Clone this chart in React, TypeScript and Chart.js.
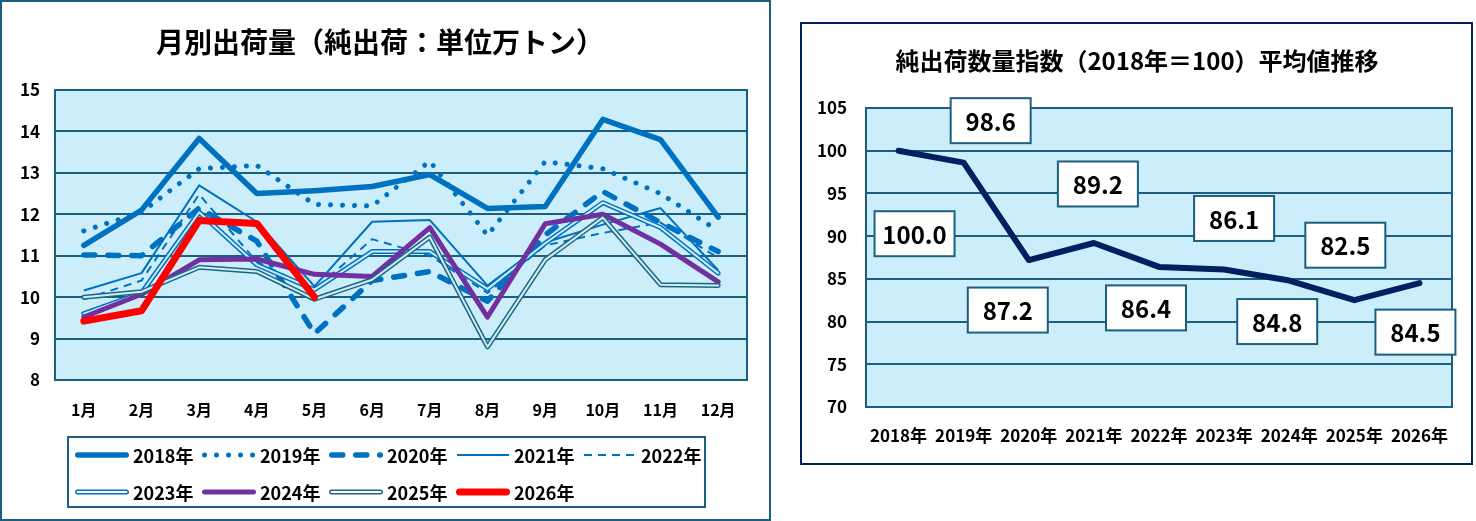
import { useEffect, useRef } from 'react'
import { Chart, registerables } from 'chart.js'

Chart.register(...registerables)

// ---- data: monthly net shipments (10k tons) ----
const months = ['1月', '2月', '3月', '4月', '5月', '6月', '7月', '8月', '9月', '10月', '11月', '12月']
const monthlyYears = ['2018年', '2019年', '2020年', '2021年', '2022年', '2023年', '2024年', '2025年', '2026年']

const ship2018 = [11.25, 12.1, 13.83, 12.5, 12.57, 12.67, 12.96, 12.14, 12.19, 14.29, 13.8, 11.93]
const ship2019 = [11.6, 12.05, 13.1, 13.18, 12.24, 12.2, 13.28, 11.49, 13.27, 13.1, 12.5, 11.6]
const ship2020 = [11.02, 11.0, 12.15, 11.35, 9.12, 10.4, 10.62, 9.9, 11.5, 12.55, 11.8, 11.1]
const ship2021 = [10.16, 10.58, 12.7, 11.82, 10.26, 11.82, 11.86, 10.28, 11.32, 11.75, 12.15, 10.65]
const ship2022 = [9.95, 10.4, 12.48, 10.85, 10.18, 11.4, 11.0, 10.1, 11.25, 11.55, 11.8, 10.95]
const ship2023 = [9.6, 10.1, 12.05, 10.78, 10.18, 11.1, 11.1, 10.2, 11.3, 12.28, 11.68, 10.58]
const ship2024 = [9.52, 10.07, 10.9, 10.92, 10.55, 10.5, 11.68, 9.52, 11.77, 12.0, 11.28, 10.37]
const ship2025 = [10.0, 10.13, 10.72, 10.62, 9.95, 10.42, 11.45, 8.8, 10.9, 11.92, 10.3, 10.28]
const ship2026 = [9.42, 9.67, 11.85, 11.78, 10.0, null, null, null, null, null, null, null]

const monthlySeries = [ship2018, ship2019, ship2020, ship2021, ship2022, ship2023, ship2024, ship2025, ship2026]

// ---- data: index (2018 = 100) ----
const indexYears = ['2018年', '2019年', '2020年', '2021年', '2022年', '2023年', '2024年', '2025年', '2026年']
const indexValues = [100.0, 98.6, 87.2, 89.2, 86.4, 86.1, 84.8, 82.5, 84.5]

const FONT = '"Noto Sans CJK JP", "Noto Sans", sans-serif'
const PLOT_BG = '#CCEEFB'
const GRID = '#1B5E7E'
const NAVY = '#002060'

interface SeriesStyle {
  color: string
  width: number
  dash: number[]
  cap: CanvasLineCap
  inner?: number
}

const seriesStyles: SeriesStyle[] = [
  { color: '#0070C0', width: 5.5, dash: [], cap: 'round' },
  { color: '#0070C0', width: 5, dash: [0.01, 12], cap: 'round' },
  { color: '#0070C0', width: 5.5, dash: [11, 13], cap: 'round' },
  { color: '#0070C0', width: 2, dash: [], cap: 'butt' },
  { color: '#0070C0', width: 2, dash: [8, 6], cap: 'butt' },
  { color: '#0070C0', width: 5, dash: [], cap: 'round', inner: 2 },
  { color: '#7030A0', width: 5, dash: [], cap: 'round' },
  { color: '#1F6580', width: 5, dash: [], cap: 'round', inner: 2 },
  { color: '#FF0000', width: 7, dash: [], cap: 'round' },
]

// label box offsets from each index point (dx, dy)
const labelOffsets = [[16, 83], [27, -42], [-21, 50], [4, -59], [-13, 41], [10, -51], [-12, 41], [-9, -55], [-4, 49]]

const plotFrame = {
  id: 'plotFrame',
  beforeDraw(chart: Chart) {
    const { ctx, chartArea: a } = chart
    ctx.save()
    ctx.fillStyle = PLOT_BG
    ctx.fillRect(a.left, a.top, a.right - a.left, a.bottom - a.top)
    ctx.restore()
  },
  beforeDatasetsDraw(chart: Chart) {
    const { ctx, chartArea: a } = chart
    ctx.save()
    ctx.strokeStyle = GRID
    ctx.lineWidth = 2
    ctx.strokeRect(a.left, a.top, a.right - a.left, a.bottom - a.top)
    ctx.restore()
  },
}

function drawTitle(ctx: CanvasRenderingContext2D, text: string, x: number, y: number, size: number) {
  ctx.save()
  ctx.fillStyle = '#000'
  ctx.font = `bold ${size}px ${FONT}`
  ctx.textAlign = 'center'
  ctx.textBaseline = 'middle'
  ctx.fillText(text, x, y)
  ctx.restore()
}

function drawSample(ctx: CanvasRenderingContext2D, st: SeriesStyle, x: number, y: number, len: number) {
  ctx.save()
  ctx.beginPath()
  ctx.moveTo(x + st.width / 2, y)
  ctx.lineTo(x + len - st.width / 2, y)
  ctx.strokeStyle = st.color
  ctx.lineWidth = st.width
  ctx.lineCap = st.cap
  ctx.setLineDash(st.dash)
  ctx.stroke()
  if (st.inner) {
    ctx.strokeStyle = '#fff'
    ctx.lineWidth = st.inner
    ctx.stroke()
  }
  ctx.restore()
}

const monthlyDecor = {
  id: 'monthlyDecor',
  afterDraw(chart: Chart) {
    const { ctx } = chart
    drawTitle(ctx, '月別出荷量（純出荷：単位万トン）', 378, 40, 28)

    // legend box
    ctx.save()
    ctx.strokeStyle = GRID
    ctx.lineWidth = 2
    ctx.strokeRect(66, 435, 637, 70)
    ctx.restore()

    monthlyYears.forEach((name, i) => {
      const col = i % 5
      const row = Math.floor(i / 5)
      const x = 73 + col * 127
      const y = row === 0 ? 453 : 490
      drawSample(ctx, seriesStyles[i], x, y, 54)
      ctx.save()
      ctx.fillStyle = '#000'
      ctx.font = `bold 18px ${FONT}`
      ctx.textBaseline = 'middle'
      ctx.fillText(name, x + 58, y + 1)
      ctx.restore()
    })
  },
}

const indexDecor = {
  id: 'indexDecor',
  afterDraw(chart: Chart) {
    const { ctx } = chart
    drawTitle(ctx, '純出荷数量指数（2018年＝100）平均値推移', 335, 37, 24)
    const meta = chart.getDatasetMeta(0)
    meta.data.forEach((pt, i) => {
      const [dx, dy] = labelOffsets[i]
      const cx = pt.x + dx
      const cy = pt.y + dy
      const w = 80
      const h = 45
      ctx.save()
      ctx.fillStyle = '#fff'
      ctx.fillRect(cx - w / 2, cy - h / 2, w, h)
      ctx.strokeStyle = GRID
      ctx.lineWidth = 2
      ctx.strokeRect(cx - w / 2, cy - h / 2, w, h)
      ctx.fillStyle = '#000'
      ctx.font = `bold 24px ${FONT}`
      ctx.textAlign = 'center'
      ctx.textBaseline = 'middle'
      ctx.fillText(indexValues[i].toFixed(1), cx, cy + 1)
      ctx.restore()
    })
  },
}

const tickFont = (size: number) => ({ size, weight: 'bold' as const, family: FONT })

const MonthlyChart = () => {
  const canvasRef = useRef<HTMLCanvasElement>(null)

  useEffect(() => {
    if (!canvasRef.current) return

    const datasets: any[] = []
    monthlySeries.forEach((values, i) => {
      const st = seriesStyles[i]
      datasets.push({
        label: monthlyYears[i],
        data: values,
        borderColor: st.color,
        borderWidth: st.width,
        borderDash: st.dash,
        borderCapStyle: st.cap,
        borderJoinStyle: 'round',
        pointRadius: 0,
        tension: 0,
        fill: false,
        order: 100 - 2 * i,
      })
      // compound (double) lines: thin background-coloured core on top
      if (st.inner) {
        datasets.push({
          label: monthlyYears[i] + '-inner',
          data: values,
          borderColor: PLOT_BG,
          borderWidth: st.inner,
          borderCapStyle: 'round',
          borderJoinStyle: 'round',
          pointRadius: 0,
          tension: 0,
          fill: false,
          order: 100 - 2 * i - 1,
        })
      }
    })

    const chart = new Chart(canvasRef.current, {
      type: 'line',
      data: { labels: months, datasets },
      options: {
        animation: false,
        responsive: true,
        maintainAspectRatio: false,
        layout: { padding: { top: 88, right: 22, bottom: 99, left: 0 } },
        plugins: {
          legend: { display: false },
          title: { display: false },
          tooltip: { enabled: false },
        },
        scales: {
          x: {
            offset: true,
            grid: { display: false, drawTicks: false },
            border: { display: false },
            ticks: { padding: 20, color: '#000', font: tickFont(16) },
            afterFit: (s: any) => { s.height = 40 },
          },
          y: {
            min: 8,
            max: 15,
            ticks: { stepSize: 1, padding: 15, color: '#000', font: tickFont(17) },
            grid: { color: GRID, lineWidth: 2, drawTicks: false },
            border: { display: false },
            afterFit: (s: any) => { s.width = 53 },
          },
        },
      },
      plugins: [plotFrame, monthlyDecor],
    })

    return () => chart.destroy()
  }, [])

  return (
    <div style={{ position: 'absolute', left: 0, top: 0, width: 771, height: 521, boxSizing: 'border-box', border: `2px solid ${GRID}`, background: '#fff' }}>
      <div style={{ position: 'relative', width: 767, height: 517 }}>
        <canvas ref={canvasRef}></canvas>
      </div>
    </div>
  )
}

const IndexChart = () => {
  const canvasRef = useRef<HTMLCanvasElement>(null)

  useEffect(() => {
    if (!canvasRef.current) return

    const chart = new Chart(canvasRef.current, {
      type: 'line',
      data: {
        labels: indexYears,
        datasets: [{
          label: '指数',
          data: indexValues,
          borderColor: NAVY,
          borderWidth: 6,
          borderJoinStyle: 'round',
          borderCapStyle: 'round',
          pointRadius: 0,
          tension: 0,
          fill: false,
        }],
      },
      options: {
        animation: false,
        responsive: true,
        maintainAspectRatio: false,
        layout: { padding: { top: 84, right: 19, bottom: 16, left: 0 } },
        plugins: {
          legend: { display: false },
          title: { display: false },
          tooltip: { enabled: false },
        },
        scales: {
          x: {
            offset: true,
            grid: { display: false, drawTicks: false },
            border: { display: false },
            ticks: { padding: 18, color: '#000', font: tickFont(17), maxRotation: 0, autoSkip: false },
            afterFit: (s: any) => { s.height = 40 },
          },
          y: {
            min: 70,
            max: 105,
            ticks: { stepSize: 5, padding: 19, color: '#000', font: tickFont(17) },
            grid: { color: GRID, lineWidth: 2, drawTicks: false },
            border: { display: false },
            afterFit: (s: any) => { s.width = 64 },
          },
        },
      },
      plugins: [plotFrame, indexDecor],
    })

    return () => chart.destroy()
  }, [])

  return (
    <div style={{ position: 'absolute', left: 800, top: 22, width: 673, height: 443, boxSizing: 'border-box', border: `2px solid ${NAVY}`, background: '#fff' }}>
      <div style={{ position: 'relative', width: 669, height: 439 }}>
        <canvas ref={canvasRef}></canvas>
      </div>
    </div>
  )
}

export default function App() {
  return (
    <div style={{ position: 'absolute', left: 0, top: 0, width: 1476, height: 521, background: '#fff', overflow: 'hidden' }}>
      <MonthlyChart />
      <IndexChart />
    </div>
  )
}
